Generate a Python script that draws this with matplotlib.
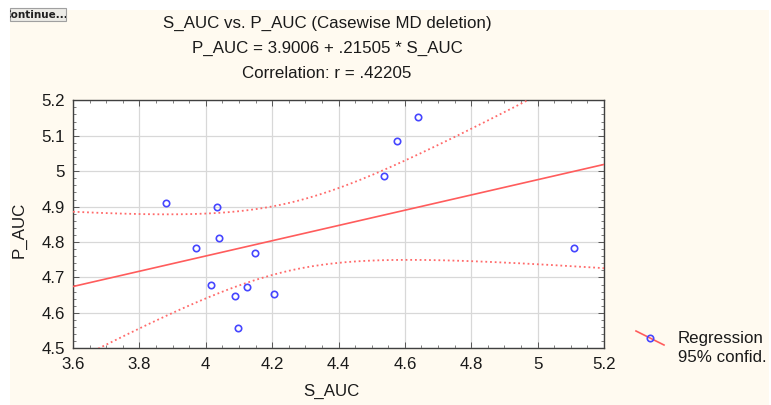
import numpy as np
import matplotlib
matplotlib.use("Agg")
import matplotlib.pyplot as plt
from matplotlib.patches import Rectangle
from matplotlib.lines import Line2D

plt.rcParams['font.family'] = ['Liberation Sans', 'DejaVu Sans']

# Data
s_auc = [3.879, 4.035, 3.971, 4.040, 4.148, 4.015, 4.123, 4.088, 4.206, 4.096,
         4.538, 4.577, 4.641, 5.109]
p_auc = [4.910, 4.900, 4.784, 4.811, 4.768, 4.679, 4.674, 4.648, 4.654, 4.558,
         4.987, 5.084, 5.153, 4.784]
x_ticks = [3.6, 3.8, 4.0, 4.2, 4.4, 4.6, 4.8, 5.0, 5.2]
x_ticklabels = ["3.6", "3.8", "4", "4.2", "4.4", "4.6", "4.8", "5", "5.2"]
y_ticks = [4.5, 4.6, 4.7, 4.8, 4.9, 5.0, 5.1, 5.2]
y_ticklabels = ["4.5", "4.6", "4.7", "4.8", "4.9", "5", "5.1", "5.2"]
title_lines = ["S_AUC vs. P_AUC (Casewise MD deletion)",
               "P_AUC = 3.9006 + .21505 * S_AUC",
               "Correlation: r = .42205"]
legend_labels = ["Regression", "95% confid."]
t_crit = 2.1788  # t(0.975, df=12)

x = np.array(s_auc)
y = np.array(p_auc)
n = len(x)
b, a = np.polyfit(x, y, 1)
xm = x.mean()
sxx = ((x - xm) ** 2).sum()
resid = y - (a + b * x)
s = np.sqrt((resid ** 2).sum() / (n - 2))
xx = np.linspace(3.6, 5.2, 200)
yy = a + b * xx
half = t_crit * s * np.sqrt(1.0 / n + (xx - xm) ** 2 / sxx)

W, H = 771, 405
FS = 12.2
fig = plt.figure(figsize=(W / 100, H / 100), dpi=100, facecolor='white')

cream = '#fffaf0'
fig.patches.append(Rectangle((10 / W, 0), 759 / W, 395 / H, transform=fig.transFigure,
                             facecolor=cream, edgecolor='none', zorder=-10))

# "Continue..." button (partially cut)
btn = Rectangle((10 / W, (405 - 21) / H), 56 / W, 13 / H, transform=fig.transFigure,
                facecolor='#ecebe6', edgecolor='#a0a0a0', lw=0.8, zorder=1)
fig.patches.append(btn)
t = fig.text(3 / W, (405 - 14.5) / H, "Continue...", fontsize=7.5, fontweight='bold',
             va='center', ha='left', color='#202020', family='DejaVu Sans', zorder=2)
t.set_clip_path(btn)

ax = fig.add_axes([73 / W, (405 - 348.3) / H, 531 / W, 248 / H])
ax.set_facecolor('white')

red = '#ff5c5c'
ax.plot(xx, yy, color=red, lw=1.2, zorder=3)
ax.plot(xx, yy + half, color='#ff6a6a', lw=1.3, ls=(0, (1.0, 1.6)), zorder=3)
ax.plot(xx, yy - half, color='#ff6a6a', lw=1.3, ls=(0, (1.0, 1.6)), zorder=3)
ax.plot(x, y, ls='none', marker='o', ms=4.6, mfc='none', mec='#4646ff', mew=1.2, zorder=4)

ax.set_xlim(3.6, 5.2)
ax.set_ylim(4.5, 5.2)
ax.set_xticks(x_ticks)
ax.set_xticklabels(x_ticklabels)
ax.set_yticks(y_ticks)
ax.set_yticklabels(y_ticklabels)
ax.set_xticks(np.arange(3.6, 5.2001, 0.05), minor=True)
ax.set_yticks(np.arange(4.5, 5.2001, 0.02), minor=True)
ax.tick_params(which='major', direction='in', length=4, width=0.7, color='#555555',
               labelsize=FS, pad=6, labelcolor='#1a1a1a',
               top=True, right=True, bottom=True, left=True)
ax.tick_params(which='minor', direction='in', length=2.5, width=0.6, color='#666666',
               top=True, right=True, bottom=True, left=True)
ax.grid(True, which='major', color='#d8d8d8', lw=0.9)
ax.set_axisbelow(True)
for sp in ax.spines.values():
    sp.set_color('#404040')
    sp.set_linewidth(1.0)

fig.text(331 / W, (405 - 391.5) / H, "S_AUC", fontsize=FS, ha='center', va='center', color='#1a1a1a')
fig.text(19 / W, (405 - 230) / H, "P_AUC", fontsize=FS, ha='center', va='center',
         rotation=90, color='#1a1a1a')

for i, line in enumerate(title_lines):
    fig.text(327 / W, (405 - (23 + 25 * i)) / H, line, fontsize=FS, ha='center',
             va='center', color='#1a1a1a')

# legend
fig.lines.append(Line2D([636 / W, 664 / W], [(405 - 331) / H, (405 - 345) / H],
                        transform=fig.transFigure, color=red, lw=1.2))
fig.lines.append(Line2D([650 / W], [(405 - 338) / H], transform=fig.transFigure,
                        marker='o', ms=4.6, mfc='none', mec='#4646ff', mew=1.2, ls='none'))
fig.text(678 / W, (405 - 339) / H, legend_labels[0], fontsize=FS, ha='left', va='center', color='#1a1a1a')
fig.text(678 / W, (405 - 357) / H, legend_labels[1], fontsize=FS, ha='left', va='center', color='#1a1a1a')

fig.savefig("out.png", dpi=100, facecolor='white')
